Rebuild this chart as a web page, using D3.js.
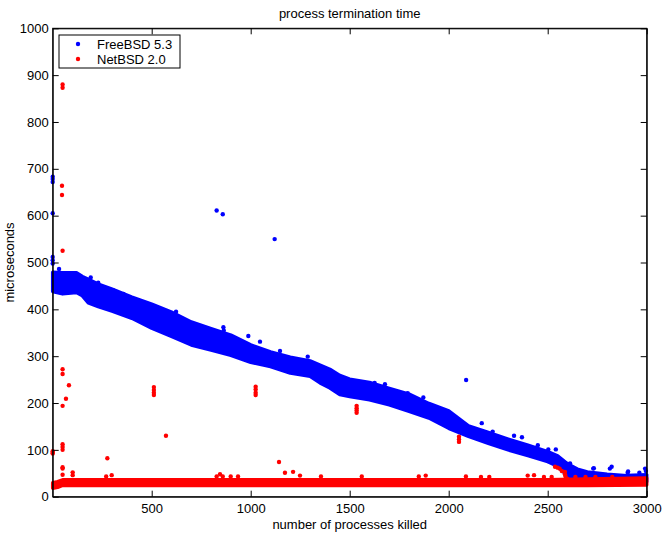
<!DOCTYPE html>
<html>
<head>
<meta charset="utf-8">
<script src="https://cdn.jsdelivr.net/npm/d3@7"></script>
<style>
  body { margin: 0; background: #fff; }
  text { font-family: "Liberation Sans", Arial, sans-serif; font-size: 13px; fill: #000; }
  .axis path, .axis line { stroke: #000; }
</style>
</head>
<body>
<script>
// readings
var xTicks = [500, 1000, 1500, 2000, 2500, 3000];
var yTicks = [0, 100, 200, 300, 400, 500, 600, 700, 800, 900, 1000];

// FreeBSD dense band: upper / lower edge at sample positions
var bsdBandX  = [0, 50, 120, 150, 180, 230, 300, 400, 500, 600, 700, 800, 900, 1000, 1100, 1200, 1300, 1350, 1400, 1450, 1500, 1600, 1700, 1800, 1900, 2000, 2100, 2200, 2300, 2400, 2500, 2550, 2600, 2650, 2700, 2800, 2900, 3000];
var bsdBandHi = [479, 478, 478, 470, 464, 454, 443, 426, 411, 394, 373, 359, 345, 324, 309, 298, 290, 281, 272, 259, 251, 244, 231, 219, 199, 183, 151, 137, 123, 110, 96, 87, 70, 59, 53, 48, 45, 47];
var bsdBandLo = [438, 433, 436, 429, 414, 406, 396, 381, 360, 342, 324, 313, 302, 287, 278, 264, 257, 243, 232, 218, 214, 207, 196, 182, 168, 146, 129, 114, 100, 88, 75, 65, 44, 34, 32, 32, 32, 32];
// FreeBSD scattered points
var bsdPtsX = [0, 0, 0, 0, 0, 0, 0, 32, 192, 230, 305, 357, 449, 562, 623, 677, 761, 828, 859, 862, 864, 988, 1047, 1121, 1148, 1288, 1446, 1626, 1678, 1793, 1872, 2088, 2167, 2222, 2330, 2370, 2450, 2503, 2541, 2598, 2613, 2730, 2733, 2814, 2823, 2904, 2906, 2963, 2992, 2996];
var bsdPtsY = [683, 678, 672, 605, 512, 505, 498, 486, 468, 457, 441, 433, 413, 388, 395, 371, 359, 611, 603, 362, 355, 343, 331, 550, 311, 299, 255, 243, 240, 221, 212, 249, 157, 139, 130, 127, 110, 101, 101, 70, 71, 60, 61, 60, 64, 51, 54, 51, 60, 55];

// NetBSD dense band
var netBandX  = [0, 25, 50, 500, 1000, 1500, 2000, 2500, 2700, 3000];
var netBandHi = [30, 32, 36, 36, 36, 36, 36, 36, 38, 40];
var netBandLo = [18, 20, 24, 24, 24, 24, 24, 24, 24, 25];
// NetBSD scattered points
var netPtsX = [0, 0, 0, 50, 50, 47, 47, 50, 50, 50, 82, 67, 50, 50, 50, 50, 50, 50, 50, 101, 101, 276, 298, 270, 511, 511, 511, 511, 572, 845, 828, 859, 899, 936, 1025, 1025, 1025, 1025, 1143, 1173, 1214, 1249, 1355, 1535, 1535, 1535, 1535, 1561, 1849, 1884, 2052, 2052, 2052, 2087, 2163, 2205, 2399, 2431, 2481, 2520, 2537, 2550, 2560, 2571, 2587, 2587, 2590, 2600, 2640, 2691, 2741, 2826];
var netPtsY = [97, 94, 92, 880, 873, 664, 644, 525, 272, 262, 238, 209, 194, 112, 106, 100, 63, 60, 47, 52, 46, 82, 46, 43, 234, 228, 222, 217, 130, 48, 43, 43, 43, 43, 235, 229, 222, 217, 74, 51, 53, 45, 43, 194, 189, 184, 179, 43, 43, 45, 128, 122, 117, 43, 42, 42, 45, 46, 42, 42, 64, 62, 60, 55, 53, 48, 43, 38, 42, 42, 42, 42];

var seriesNames = ["FreeBSD 5.3", "NetBSD 2.0"];
var seriesColors = ["#0000ff", "#ff0000"];

var W = 668, H = 533;
var margin = {top: 28.3, right: 21.3, bottom: 36.3, left: 52.7},
    width = W - margin.left - margin.right,
    height = H - margin.top - margin.bottom;

var svg = d3.select("body").append("svg")
    .attr("width", W)
    .attr("height", H);

var g = svg.append("g")
    .attr("transform", "translate(" + margin.left + "," + margin.top + ")");

var x = d3.scaleLinear().domain([0, 3000]).range([0, width]);
var y = d3.scaleLinear().domain([0, 1000]).range([height, 0]);

var plot = g.append("g");

function band(xs, hi, lo, color) {
  var area = d3.area()
      .x(function(i) { return x(xs[i]); })
      .y0(function(i) { return y(lo[i]); })
      .y1(function(i) { return y(hi[i]); });
  plot.append("path")
      .attr("d", area(d3.range(xs.length)))
      .attr("fill", color)
      .attr("stroke", color)
      .attr("stroke-width", 3.5)
      .attr("stroke-linejoin", "round");
}

function dots(xs, ys, color) {
  plot.selectAll(null)
      .data(d3.range(xs.length))
    .enter().append("circle")
      .attr("cx", function(i) { return x(xs[i]); })
      .attr("cy", function(i) { return y(ys[i]); })
      .attr("r", 2.2)
      .attr("fill", color);
}

band(bsdBandX, bsdBandHi, bsdBandLo, seriesColors[0]);
dots(bsdPtsX, bsdPtsY, seriesColors[0]);
band(netBandX, netBandHi, netBandLo, seriesColors[1]);
dots(netPtsX, netPtsY, seriesColors[1]);

// box with inward ticks on all sides
var fmt = d3.format("d");
g.append("g").attr("class", "axis")
    .attr("transform", "translate(0," + height + ")")
    .call(d3.axisBottom(x).tickValues(xTicks).tickFormat(fmt).tickSizeInner(-6).tickSizeOuter(0).tickPadding(7));
g.append("g").attr("class", "axis")
    .call(d3.axisTop(x).tickValues(xTicks).tickSizeInner(-6).tickSizeOuter(0).tickFormat(""));
g.append("g").attr("class", "axis")
    .call(d3.axisLeft(y).tickValues(yTicks).tickFormat(fmt).tickSizeInner(-6).tickSizeOuter(0).tickPadding(4));
g.append("g").attr("class", "axis")
    .attr("transform", "translate(" + width + ",0)")
    .call(d3.axisRight(y).tickValues(yTicks).tickSizeInner(-6).tickSizeOuter(0).tickFormat(""));
g.selectAll(".axis text").style("font-size", "13px").attr("font-family", null);

g.append("rect")
    .attr("width", width)
    .attr("height", height)
    .attr("fill", "none")
    .attr("stroke", "#000");

svg.append("text")
    .attr("x", margin.left + width / 2)
    .attr("y", 18)
    .attr("text-anchor", "middle")
    .text("process termination time");

svg.append("text")
    .attr("x", margin.left + width / 2)
    .attr("y", 529)
    .attr("text-anchor", "middle")
    .text("number of processes killed");

svg.append("text")
    .attr("transform", "translate(14," + (margin.top + height / 2) + ") rotate(-90)")
    .attr("text-anchor", "middle")
    .text("microseconds");

// legend
var legend = svg.append("g").attr("transform", "translate(59,35)");
legend.append("rect")
    .attr("width", 121)
    .attr("height", 33)
    .attr("fill", "#fff")
    .attr("stroke", "#000");
var item = legend.selectAll(".item")
    .data(seriesNames)
  .enter().append("g")
    .attr("transform", function(d, i) { return "translate(0," + (9 + i * 15) + ")"; });
item.append("circle")
    .attr("cx", 19)
    .attr("r", 2.2)
    .attr("fill", function(d, i) { return seriesColors[i]; });
item.append("text")
    .attr("x", 38)
    .attr("dy", "0.36em")
    .text(function(d) { return d; });
</script>
</body>
</html>
